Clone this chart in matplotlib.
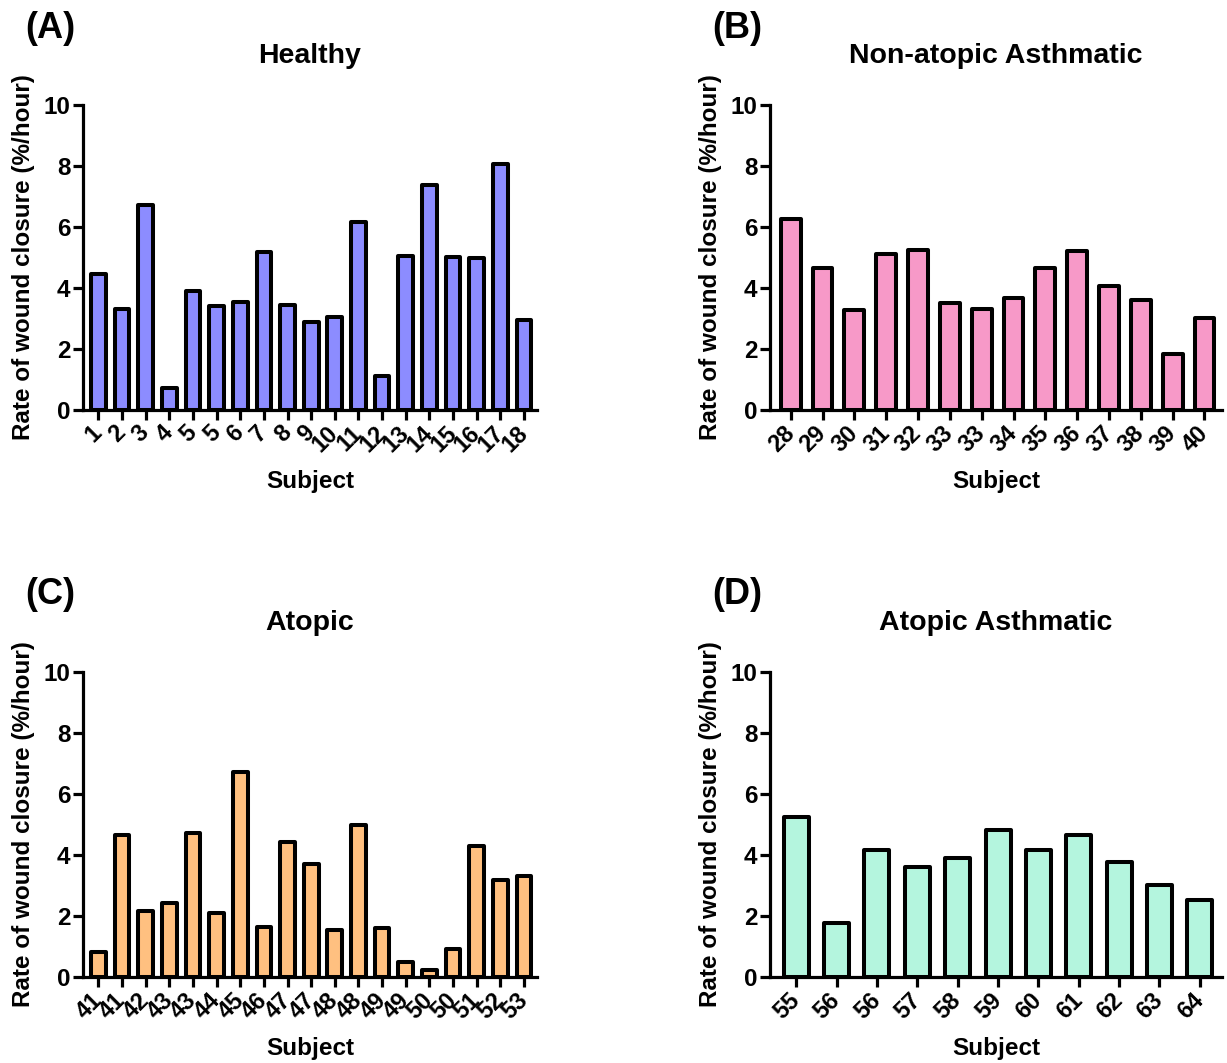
import matplotlib
matplotlib.use("Agg")
import matplotlib.pyplot as plt

plt.rcParams['font.family'] = ['Liberation Sans', 'DejaVu Sans']
plt.rcParams['font.weight'] = 'bold'

# Rate of wound closure (%/hour) per subject, four groups
healthy_labels = ["1", "2", "3", "4", "5", "5", "6", "7", "8", "9", "10",
                  "11", "12", "13", "14", "15", "16", "17", "18"]
healthy_values = [4.45, 3.32, 6.71, 0.71, 3.91, 3.42, 3.54, 5.18, 3.44, 2.87,
                  3.05, 6.16, 1.11, 5.05, 7.38, 5.02, 4.99, 8.07, 2.95]

nonatopic_labels = ["28", "29", "30", "31", "32", "33", "33", "34", "35",
                    "36", "37", "38", "39", "40"]
nonatopic_values = [6.27, 4.67, 3.27, 5.13, 5.23, 3.52, 3.30, 3.66, 4.65,
                    5.22, 4.08, 3.62, 1.85, 3.01]

atopic_labels = ["41", "41", "42", "43", "43", "44", "45", "46", "47", "47",
                 "48", "48", "49", "49", "50", "50", "51", "52", "53"]
atopic_values = [0.81, 4.64, 2.17, 2.42, 4.72, 2.10, 6.71, 1.64, 4.42, 3.71,
                 1.55, 4.98, 1.60, 0.49, 0.22, 0.93, 4.31, 3.19, 3.31]

atopic_asth_labels = ["55", "56", "56", "57", "58", "59", "60", "61", "62",
                      "63", "64"]
atopic_asth_values = [5.23, 1.76, 4.17, 3.60, 3.90, 4.81, 4.17, 4.64, 3.76,
                      3.01, 2.53]

panels = [
    ("(A)", "Healthy", healthy_labels, healthy_values, "#8C8CFF"),
    ("(B)", "Non-atopic Asthmatic", nonatopic_labels, nonatopic_values, "#F799C8"),
    ("(C)", "Atopic", atopic_labels, atopic_values, "#FFC080"),
    ("(D)", "Atopic Asthmatic", atopic_asth_labels, atopic_asth_values, "#B4F5DE"),
]

W, H = 1227, 1063
fig = plt.figure(figsize=(W / 100, H / 100), dpi=100)

# axes boxes in pixels: (left, right, top, bottom)
boxes = [
    (83, 537, 105, 410),
    (770, 1222, 105, 410),
    (83, 537, 672, 977),
    (770, 1222, 672, 977),
]
tag_y = [28, 28, 595, 595]

for (tag, title, labels, values, color), (l, r, t, b), ty in zip(panels, boxes, tag_y):
    ax = fig.add_axes([l / W, 1 - b / H, (r - l) / W, (b - t) / H])
    x = list(range(len(values)))
    ax.bar(x, values, width=0.62, color=color, edgecolor="black",
           linewidth=2.9, joinstyle="round", zorder=3)
    n = len(values)
    ax.set_xlim(-0.65, n - 1 + 0.55)
    ax.set_ylim(0, 10)
    ax.set_yticks([0, 2, 4, 6, 8, 10])
    ax.set_xticks(x)
    ax.set_xticklabels(labels, rotation=45, ha="right", va="center",
                       rotation_mode="anchor", fontsize=17, fontweight="bold")
    for lab in ax.get_yticklabels():
        lab.set_fontsize(17.5)
        lab.set_fontweight("bold")
    for side in ("top", "right"):
        ax.spines[side].set_visible(False)
    for side in ("left", "bottom"):
        ax.spines[side].set_linewidth(2.3)
    ax.tick_params(axis="both", width=2.3, length=7, pad=2)
    ax.tick_params(axis="x", pad=7)
    ax.set_ylabel("Rate of wound closure (%/hour)", fontsize=17.5,
                  fontweight="bold")
    ax.yaxis.set_label_coords(-48 / (r - l), 0.5)
    ax.set_xlabel("Subject", fontsize=17.5, fontweight="bold")
    ax.xaxis.set_label_coords(0.5, -60 / (b - t))
    ax.set_title(title, fontsize=20.5, fontweight="bold", pad=30)
    fig.text((l - 58) / W, 1 - ty / H, tag,
             fontsize=26, fontweight="bold", ha="left", va="center")

fig.savefig("out.png", dpi=100)
